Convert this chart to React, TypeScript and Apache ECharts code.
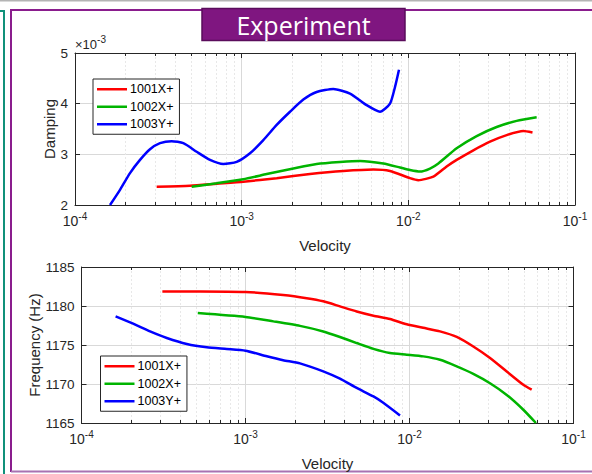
import React, { useEffect, useRef } from 'react';
import * as echarts from 'echarts';

const FONT = 'Liberation Sans';
const AX = '#262626';

const seriesNames = ['1001X+', '1002X+', '1003Y+'];
const seriesColors = ['#ff0000', '#00b400', '#0000ff'];

// x-axis decades and minor tick positions
const decadeTicks = [1e-4, 1e-3, 1e-2, 1e-1];
const minorTickValues = [
  2e-4, 3e-4, 4e-4, 5e-4, 6e-4, 7e-4, 8e-4, 9e-4,
  2e-3, 3e-3, 4e-3, 5e-3, 6e-3, 7e-3, 8e-3, 9e-3,
  2e-2, 3e-2, 4e-2, 5e-2, 6e-2, 7e-2, 8e-2, 9e-2,
];

// ---- Damping (values in units of 1e-3) ----
const dampVel1001 = [3.09e-4, 4.9e-4, 7.08e-4, 1.023e-3, 1.622e-3, 2.57e-3, 4.074e-3, 6.166e-3, 7.762e-3, 1.023e-2, 1.148e-2, 1.413e-2, 1.698e-2, 1.95e-2, 2.455e-2, 3.09e-2, 3.89e-2, 4.898e-2, 5.559e-2];
const damp1001 = [2.36, 2.38, 2.42, 2.46, 2.53, 2.61, 2.67, 2.70, 2.67, 2.53, 2.49, 2.56, 2.76, 2.89, 3.08, 3.25, 3.38, 3.46, 3.43];

const dampVel1002 = [5.01e-4, 7.08e-4, 1.023e-3, 1.413e-3, 2.042e-3, 2.818e-3, 3.89e-3, 5.129e-3, 7.079e-3, 8.913e-3, 1.023e-2, 1.175e-2, 1.349e-2, 1.514e-2, 1.95e-2, 2.57e-2, 3.388e-2, 4.467e-2, 5.888e-2];
const damp1002 = [2.36, 2.43, 2.51, 2.61, 2.72, 2.81, 2.85, 2.87, 2.82, 2.74, 2.69, 2.66, 2.72, 2.82, 3.12, 3.36, 3.54, 3.66, 3.73];

const dampVel1003 = [1.622e-4, 1.862e-4, 2.138e-4, 2.455e-4, 2.818e-4, 3.236e-4, 3.802e-4, 4.467e-4, 5.37e-4, 6.457e-4, 7.762e-4, 9.333e-4, 1.122e-3, 1.349e-3, 1.622e-3, 1.95e-3, 2.344e-3, 2.818e-3, 3.548e-3, 4.467e-3, 5.623e-3, 6.761e-3, 7.762e-3, 8.318e-3, 8.79e-3];
const damp1003 = [2.0, 2.30, 2.63, 2.89, 3.10, 3.22, 3.26, 3.22, 3.05, 2.89, 2.81, 2.85, 3.02, 3.28, 3.58, 3.84, 4.08, 4.23, 4.29, 4.20, 3.97, 3.84, 4.00, 4.33, 4.67];

// ---- Frequency (Hz) ----
const freqVel1001 = [3.112e-4, 5.284e-4, 1e-3, 1.698e-3, 2.36e-3, 2.979e-3, 3.767e-3, 4.764e-3, 6.026e-3, 7.603e-3, 9.616e-3, 1.213e-2, 1.535e-2, 1.941e-2, 2.449e-2, 3.097e-2, 3.917e-2, 4.943e-2, 5.559e-2];
const freq1001 = [1181.87, 1181.87, 1181.8, 1181.4, 1181.0, 1180.6, 1179.95, 1179.3, 1178.76, 1178.33, 1177.65, 1177.2, 1176.75, 1176.03, 1174.8, 1173.33, 1171.6, 1169.9, 1169.27];

const freqVel1002 = [5.117e-4, 1e-3, 1.479e-3, 2.148e-3, 2.979e-3, 3.767e-3, 4.764e-3, 6.026e-3, 7.603e-3, 9.616e-3, 1.213e-2, 1.535e-2, 1.941e-2, 2.449e-2, 3.097e-2, 3.917e-2, 4.943e-2, 5.902e-2];
const freq1002 = [1179.1, 1178.6, 1178.03, 1177.45, 1176.74, 1176.03, 1175.25, 1174.5, 1173.97, 1173.76, 1173.54, 1173.1, 1172.26, 1171.3, 1170.1, 1168.6, 1166.7, 1165.0];

const freqVel1003 = [1.614e-4, 2.065e-4, 2.618e-4, 3.311e-4, 4.385e-4, 5.808e-4, 7.691e-4, 1e-3, 1.349e-3, 1.698e-3, 2.148e-3, 2.979e-3, 3.767e-3, 4.764e-3, 6.026e-3, 6.918e-3, 8.75e-3];
const freq1003 = [1178.67, 1177.73, 1176.74, 1175.9, 1175.13, 1174.7, 1174.49, 1174.27, 1173.55, 1173.05, 1172.65, 1171.62, 1170.68, 1169.49, 1168.41, 1167.6, 1165.97];

const zip = (xs: number[], ys: number[]) => xs.map((x, i) => [x, ys[i]]);

const minorRender = (params: any, api: any) => {
  const cs = params.coordSys;
  const x = Math.round(api.coord([api.value(0), api.value(1)])[0]) + 0.5;
  const top = cs.y;
  const bot = cs.y + cs.height;
  return {
    type: 'group',
    children: [
      { type: 'line', shape: { x1: x, y1: top, x2: x, y2: bot }, style: { stroke: '#e8e8e8', lineWidth: 1, lineDash: [2, 2] } },
      { type: 'line', shape: { x1: x, y1: bot, x2: x, y2: bot - 3 }, style: { stroke: AX, lineWidth: 1 } },
      { type: 'line', shape: { x1: x, y1: top, x2: x, y2: top + 3 }, style: { stroke: AX, lineWidth: 1 } },
    ],
  };
};

const xLabelRich = {
  b: { fontSize: 14, color: AX, fontFamily: FONT, verticalAlign: 'bottom' },
  s: { fontSize: 10, color: AX, fontFamily: FONT, verticalAlign: 'bottom', padding: [0, 0, 7, 0] },
};

const makeXAxes = (gridIndex: number) => [
  {
    type: 'log', logBase: 10, gridIndex, min: decadeTicks[0], max: decadeTicks[decadeTicks.length - 1],
    position: 'bottom',
    name: 'Velocity', nameLocation: 'middle', nameGap: 33, nameMoveOverlap: false,
    nameTextStyle: { fontSize: 15, color: AX, fontFamily: FONT, verticalAlign: 'top' },
    axisLine: { show: true, onZero: false, lineStyle: { color: AX, width: 1 } },
    axisTick: { show: true, inside: true, length: 5, lineStyle: { color: AX } },
    splitLine: { show: true, lineStyle: { color: '#d9d9d9', width: 1 } },
    axisLabel: {
      margin: 6,
      formatter: (v: number) => `{b|10}{s|${Math.round(Math.log10(v))}}`,
      rich: xLabelRich,
    },
  },
  {
    type: 'log', logBase: 10, gridIndex, min: decadeTicks[0], max: decadeTicks[decadeTicks.length - 1],
    position: 'top',
    axisLine: { show: true, onZero: false, lineStyle: { color: AX, width: 1 } },
    axisTick: { show: true, inside: true, length: 5, lineStyle: { color: AX } },
    splitLine: { show: false },
    axisLabel: { show: false },
  },
];

const makeYAxes = (gridIndex: number, min: number, max: number, interval: number, name: string, nameGap: number) => [
  {
    type: 'value', gridIndex, min, max, interval, position: 'left',
    name, nameLocation: 'middle', nameGap, nameMoveOverlap: false,
    nameTextStyle: { fontSize: 15, color: AX, fontFamily: FONT },
    axisLine: { show: true, onZero: false, lineStyle: { color: AX, width: 1 } },
    axisTick: { show: true, inside: true, length: 5, lineStyle: { color: AX } },
    splitLine: { show: true, lineStyle: { color: '#d9d9d9', width: 1 } },
    axisLabel: { fontSize: 13.5, color: AX, fontFamily: FONT, margin: 7, formatter: (v: number) => String(v) },
  },
  {
    type: 'value', gridIndex, min, max, interval, position: 'right',
    axisLine: { show: true, onZero: false, lineStyle: { color: AX, width: 1 } },
    axisTick: { show: true, inside: true, length: 5, lineStyle: { color: AX } },
    splitLine: { show: false },
    axisLabel: { show: false },
  },
];

export default function App() {
  const ref = useRef<HTMLDivElement>(null);
  useEffect(() => {
    if (!ref.current) return;
    const chart = echarts.init(ref.current, undefined, { renderer: 'svg' });

    const topY = makeYAxes(0, 2, 5, 1, 'Damping', 18);
    const bottomY = makeYAxes(1, 1165, 1185, 5, 'Frequency (Hz)', 40);

    const lineSeries = (name: string, color: string, data: number[][], xi: number, yi: number) => ({
      type: 'line', name, data, xAxisIndex: xi, yAxisIndex: yi,
      showSymbol: false, symbol: 'none', smooth: 0.2, z: 5,
      lineStyle: { color, width: 2.5 }, itemStyle: { color },
    });

    const legendBase = {
      orient: 'vertical', data: seriesNames, icon: 'rect', itemWidth: 30, itemHeight: 2.5, itemGap: 4.5,
      backgroundColor: '#ffffff', borderColor: AX, borderWidth: 1, borderRadius: 0,
      padding: [3.75, 6, 3.5, 4],
      textStyle: { fontSize: 12.5, color: '#000', fontFamily: FONT, padding: [0, 0, 0, -2] },
      selectedMode: false,
    };

    chart.setOption({
      animation: false,
      backgroundColor: '#ffffff',
      textStyle: { fontFamily: FONT },
      grid: [
        { left: 75, top: 53, width: 500, height: 152 },
        { left: 81.5, top: 267, width: 492, height: 156 },
      ],
      xAxis: [...makeXAxes(0), ...makeXAxes(1)],
      yAxis: [
        topY[0],
        topY[1],
        bottomY[0],
        bottomY[1],
        {
          type: 'value', gridIndex: 0, min: 2, max: 5, interval: 1, position: 'left', show: true,
          axisLine: { show: false }, axisTick: { show: false }, axisLabel: { show: false }, splitLine: { show: false },
          name: '{a|×10}{s|-3}', nameLocation: 'end', nameGap: 2, nameMoveOverlap: false,
          nameTextStyle: {
            align: 'left', verticalAlign: 'bottom',
            rich: {
              a: { fontSize: 13, color: AX, fontFamily: FONT, verticalAlign: 'bottom' },
              s: { fontSize: 10, color: AX, fontFamily: FONT, verticalAlign: 'bottom', padding: [0, 0, 7, 0] },
            },
          },
        },
      ],
      legend: [
        { ...legendBase, left: 93, top: 79 },
        { ...legendBase, left: 100.5, top: 356 },
      ],
      series: [
        { type: 'custom', xAxisIndex: 0, yAxisIndex: 0, data: minorTickValues.map((v) => [v, 2]), renderItem: minorRender, silent: true, z: 1, clip: false },
        { type: 'custom', xAxisIndex: 2, yAxisIndex: 2, data: minorTickValues.map((v) => [v, 1165]), renderItem: minorRender, silent: true, z: 1, clip: false },
        lineSeries(seriesNames[0], seriesColors[0], zip(dampVel1001, damp1001), 0, 0),
        lineSeries(seriesNames[1], seriesColors[1], zip(dampVel1002, damp1002), 0, 0),
        lineSeries(seriesNames[2], seriesColors[2], zip(dampVel1003, damp1003), 0, 0),
        lineSeries(seriesNames[0], seriesColors[0], zip(freqVel1001, freq1001), 2, 2),
        lineSeries(seriesNames[1], seriesColors[1], zip(freqVel1002, freq1002), 2, 2),
        lineSeries(seriesNames[2], seriesColors[2], zip(freqVel1003, freq1003), 2, 2),
      ],
      graphic: [
        { type: 'line', shape: { x1: 0, y1: 0.5, x2: 592, y2: 0.5 }, style: { stroke: '#b4b4b4', lineWidth: 2 }, silent: true },
        { type: 'polyline', shape: { points: [[0, 11], [4, 11], [4, 474]] }, style: { stroke: '#10917a', lineWidth: 2, fill: null }, silent: true },
        { type: 'polyline', shape: { points: [[11, 472], [11, 10], [592, 10]] }, style: { stroke: '#8a1d8d', lineWidth: 2, fill: null }, silent: true },
        { type: 'line', shape: { x1: 11, y1: 471.5, x2: 592, y2: 471.5 }, style: { stroke: '#a872b2', lineWidth: 2 }, silent: true },
        { type: 'rect', shape: { x: 202, y: 8.5, width: 203, height: 32 }, style: { fill: '#7f1680', stroke: '#5a0c5b', lineWidth: 1.5 }, silent: true, z: 10 },
        {
          type: 'text', x: 303.5, y: 25, silent: true, z: 11,
          style: { text: 'Experiment', fill: '#ffffff', fontSize: 25, fontFamily: 'Open Sans', align: 'center', verticalAlign: 'middle' },
        },
      ],
    });
    return () => chart.dispose();
  }, []);
  return <div ref={ref} style={{ position: 'absolute', left: 0, top: 0, width: 592, height: 474 }} />;
}
